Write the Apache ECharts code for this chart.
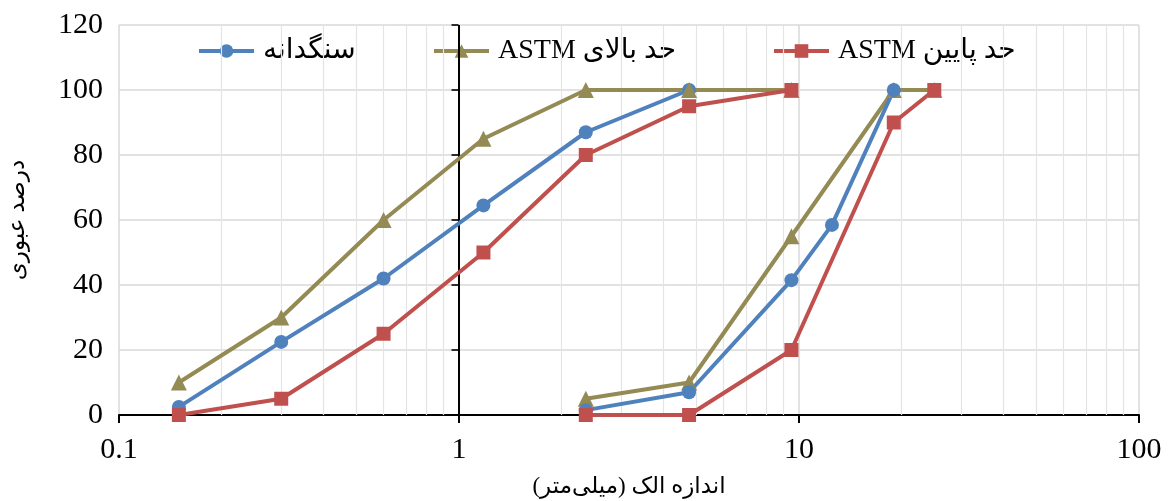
<!DOCTYPE html>
<html>
<head>
<meta charset="utf-8">
<script src="https://cdn.jsdelivr.net/npm/echarts@6/dist/echarts.min.js"></script>
<style>
html,body{margin:0;padding:0;background:#fff;}
#chart{width:1168px;height:501px;}
</style>
</head>
<body>
<div id="chart" dir="rtl"></div>
<script>
// ---- data ----
const seriesNames = ['سنگدانه', 'حد بالای ASTM', 'حد پایین ASTM'];
const sizesFine = [0.15, 0.3, 0.6, 1.18, 2.36, 4.75, 9.5];
const sizesCoarse = [2.36, 4.75, 9.5, 12.5, 19, 25];
const aggFine = [2.5, 22.5, 42, 64.5, 87, 100, null];
const aggCoarse = [1.5, 7, 41.5, 58.5, 100, null];
const upperFine = [10, 30, 60, 85, 100, 100, 100];
const upperCoarse = [5, 10, 55, null, 100, 100];
const lowerFine = [0, 5, 25, 50, 80, 95, 100];
const lowerCoarse = [0, 0, 20, null, 90, 100];
const yTicks = [0, 20, 40, 60, 80, 100, 120];
const minorTicks = [0.2,0.3,0.4,0.5,0.6,0.7,0.8,0.9,2,3,4,5,6,7,8,9,20,30,40,50,60,70,80,90];
const xTitle = 'اندازه الک (میلی‌متر)';
const yTitle = 'درصد عبوری';

const colors = ['#4F81BD', '#948A54', '#C0504D'];
const symbols = ['circle', 'triangle', 'rect'];
const symSizes = [14, 16, 14];
const legendLefts = [192, 427, 767];
const FONT = "'Liberation Serif', 'DejaVu Sans', serif";

function pairs(xs, ys) {
  const out = [];
  xs.forEach((x, i) => { if (ys[i] !== null && ys[i] !== undefined) out.push([x, ys[i]]); });
  return out;
}
function mkSeries(idx, xs, ys) {
  return {
    name: seriesNames[idx], type: 'line', data: pairs(xs, ys),
    symbol: symbols[idx], symbolSize: symSizes[idx], z: 5,
    itemStyle: { color: colors[idx] },
    lineStyle: { color: colors[idx], width: 4 },
    emphasis: { disabled: true }, animation: false
  };
}

const chart = echarts.init(document.getElementById('chart'), null, { renderer: 'canvas' });
const option = {
  animation: false,
  textStyle: { fontFamily: FONT },
  grid: { left: 119, right: 29, top: 25, bottom: 86, containLabel: false, outerBoundsMode: 'none' },
  legend: seriesNames.map((n, i) => ({
    data: [n], left: legendLefts[i], top: 32,
    itemWidth: 55, itemHeight: 17, itemGap: 0,
    lineStyle: { width: 4 },
    textStyle: { fontFamily: FONT, fontSize: 28, color: '#000', padding: [0, 0, 0, 4] },
    selectedMode: false
  })),
  xAxis: {
    type: 'log', logBase: 10, min: 0.1, max: 100,
    name: xTitle, nameLocation: 'middle', nameGap: 60,
    nameTextStyle: { fontFamily: FONT, fontSize: 23, color: '#000' },
    axisLine: { show: true, lineStyle: { color: '#000', width: 2 } },
    axisTick: { show: true, length: 8, lineStyle: { color: '#000', width: 2 } },
    axisLabel: { fontSize: 30, color: '#000', margin: 20, fontFamily: FONT,
      formatter: v => String(v) },
    splitLine: { show: true, lineStyle: { color: '#d9d9d9', width: 1.5 } },
    minorTick: { show: false }
  },
  yAxis: {
    type: 'value', min: 0, max: 120, interval: 20,
    name: yTitle, nameLocation: 'middle', nameGap: 90, nameRotate: 90,
    nameTextStyle: { fontFamily: FONT, fontSize: 23, color: '#000' },
    axisLine: { show: false }, axisTick: { show: false },
    axisLabel: { fontSize: 30, color: '#000', margin: 16, fontFamily: FONT },
    splitLine: { show: true, lineStyle: { color: '#d9d9d9', width: 1.5 } }
  },
  series: [
    {
      type: 'line', data: [], z: 1, silent: true,
      markLine: {
        silent: true, symbol: ['none', 'none'], animation: false,
        label: { show: false },
        lineStyle: { color: '#e4e4e4', width: 1.2, type: 'solid' },
        data: minorTicks.map(v => ({ xAxis: v }))
      }
    },
    {
      type: 'scatter', z: 3, silent: true,
      data: yTicks.map(v => [1, v]),
      symbol: 'rect', symbolSize: [7, 2], symbolOffset: [-4, 0],
      itemStyle: { color: '#000' },
      markLine: {
        silent: true, symbol: ['none', 'none'], animation: false,
        label: { show: false },
        lineStyle: { color: '#000', width: 2, type: 'solid' },
        data: [{ xAxis: 1 }]
      }
    },
    mkSeries(0, sizesFine, aggFine),
    mkSeries(1, sizesFine, upperFine),
    mkSeries(2, sizesFine, lowerFine),
    mkSeries(1, sizesCoarse, upperCoarse),
    mkSeries(0, sizesCoarse, aggCoarse),
    mkSeries(2, sizesCoarse, lowerCoarse)
  ]
};
chart.setOption(option);
</script>
</body>
</html>
